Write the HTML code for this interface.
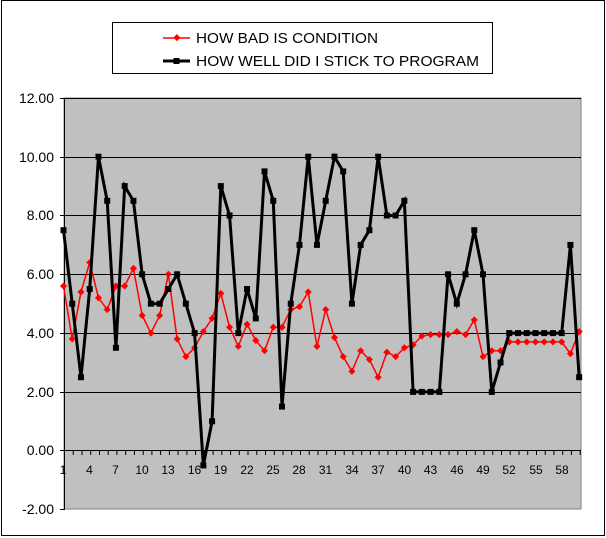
<!DOCTYPE html>
<html><head><meta charset="utf-8"><style>
html,body{margin:0;padding:0;background:#fff}
svg{display:block;font-family:"Liberation Sans",Arial,sans-serif}
</style></head><body>
<svg id="s" width="606" height="538" xmlns="http://www.w3.org/2000/svg">
<rect x="1.5" y="0.5" width="603" height="535" fill="#fff" stroke="#000"/>
<rect x="64" y="98" width="517" height="411" fill="#c0c0c0" stroke="#808080"/>
<g stroke="#000" stroke-width="1">
<line x1="60" x2="581" y1="98.5" y2="98.5"/>
<line x1="60" x2="581" y1="157.5" y2="157.5"/>
<line x1="60" x2="581" y1="215.5" y2="215.5"/>
<line x1="60" x2="581" y1="274.5" y2="274.5"/>
<line x1="60" x2="581" y1="333.5" y2="333.5"/>
<line x1="60" x2="581" y1="392.5" y2="392.5"/>
<line x1="60" x2="581" y1="450.5" y2="450.5"/>
<line x1="60" x2="64" y1="509.5" y2="509.5"/>
<line x1="64.5" x2="64.5" y1="98" y2="510"/>
</g>
<g id="ticks" stroke="#000"></g>
<g font-size="14" text-anchor="end" fill="#000">
<text x="54" y="103">12.00</text>
<text x="54" y="162">10.00</text>
<text x="54" y="220">8.00</text>
<text x="54" y="279">6.00</text>
<text x="54" y="338">4.00</text>
<text x="54" y="397">2.00</text>
<text x="54" y="455">0.00</text>
<text x="54" y="514">-2.00</text>
</g>
<g font-size="12" text-anchor="middle" fill="#000">
<text x="63" y="474">1</text><text x="89.5" y="474">4</text><text x="115.5" y="474">7</text>
<text x="142" y="474">10</text><text x="168" y="474">13</text><text x="194.5" y="474">16</text>
<text x="220.5" y="474">19</text><text x="247" y="474">22</text><text x="273" y="474">25</text>
<text x="299" y="474">28</text><text x="325.5" y="474">31</text><text x="352" y="474">34</text>
<text x="378" y="474">37</text><text x="404.5" y="474">40</text><text x="430.5" y="474">43</text>
<text x="457" y="474">46</text><text x="483" y="474">49</text><text x="509" y="474">52</text>
<text x="536" y="474">55</text><text x="562" y="474">58</text>
</g>
<g id="series"></g>
<rect x="112.5" y="22.5" width="380" height="51" fill="#fff" stroke="#000"/>
<line x1="163" x2="190" y1="38" y2="38" stroke="#f00" stroke-width="1.5"/>
<rect x="174" y="35" width="5" height="5" fill="#f00" transform="rotate(45 176.5 38)"/>
<line x1="163" x2="190" y1="61" y2="61" stroke="#000" stroke-width="3"/>
<rect x="173.5" y="58" width="6" height="6" fill="#000"/>
<text x="196" y="43" font-size="15" textLength="182" lengthAdjust="spacingAndGlyphs">HOW BAD IS CONDITION</text>
<text x="196" y="66" font-size="15" textLength="283" lengthAdjust="spacingAndGlyphs">HOW WELL DID I STICK TO PROGRAM</text>
</svg>
<script>
var B=[7.5,5,2.5,5.5,10,8.5,3.5,9,8.5,6,5,5,5.5,6,5,4,-0.5,1,9,8,4,5.5,4.5,9.5,8.5,1.5,5,7,10,7,8.5,10,9.5,5,7,7.5,10,8,8,8.5,2,2,2,2,6,5,6,7.5,6,2,3,4,4,4,4,4,4,4,7,2.5];
var R=[5.6,3.8,5.4,6.4,5.2,4.8,5.6,5.6,6.2,4.6,4,4.6,6,3.8,3.2,3.5,4.05,4.5,5.35,4.2,3.55,4.3,3.75,3.4,4.2,4.2,4.8,4.9,5.4,3.55,4.8,3.85,3.2,2.7,3.4,3.1,2.5,3.35,3.2,3.5,3.6,3.9,3.95,3.95,3.95,4.05,3.95,4.45,3.2,3.4,3.4,3.7,3.7,3.7,3.7,3.7,3.7,3.7,3.3,4.05];
function X(i){return 63.5+i*8.74}function Y(v){return 450.7-29.4*v}
var h='',t='';
for(var i=0;i<=59;i++){var x=(64.5+i*8.74).toFixed(1);t+='<line x1="'+x+'" x2="'+x+'" y1="450" y2="455"/>';}
document.getElementById('ticks').innerHTML=t;
var p=R.map(function(v,i){return X(i)+','+Y(v)}).join(' ');
h+='<polyline points="'+p+'" fill="none" stroke="#f00" stroke-width="1.5"/>';
R.forEach(function(v,i){var x=X(i),y=Y(v);h+='<rect x="'+(x-2.5)+'" y="'+(y-2.5)+'" width="5" height="5" fill="#f00" transform="rotate(45 '+x+' '+y+')"/>';});
p=B.map(function(v,i){return X(i)+','+Y(v)}).join(' ');
h+='<polyline points="'+p+'" fill="none" stroke="#000" stroke-width="3"/>';
B.forEach(function(v,i){var x=X(i),y=Y(v);h+='<rect x="'+(x-3)+'" y="'+(y-3)+'" width="6" height="6" fill="#000"/>';});
document.getElementById('series').innerHTML=h;
</script>
</body></html>
